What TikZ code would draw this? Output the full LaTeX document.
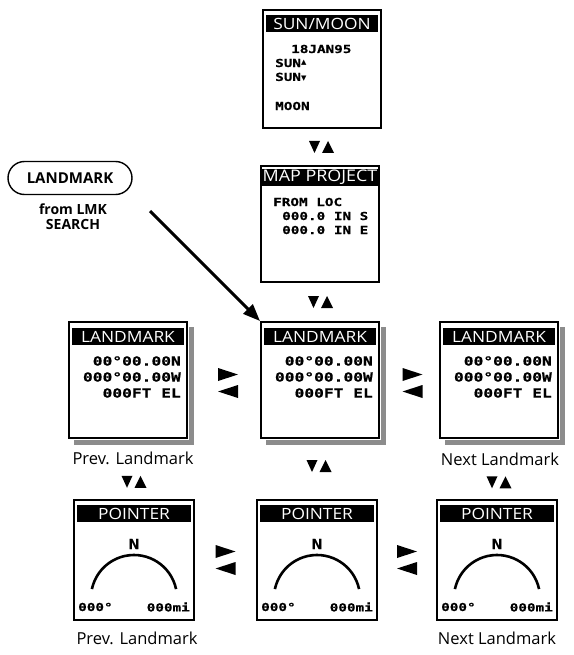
\documentclass[tikz,border=0pt]{standalone}
\usepackage{fontspec}
\setmainfont{Open Sans}
\newfontfamily\titlefont{Open Sans}[FakeStretch=1.12]
\newfontfamily\lcdfont{DejaVu Sans Mono}[FakeStretch=1.3, FakeBold=0.6]
\newfontfamily\symfont{DejaVu Sans}
\usetikzlibrary{calc,arrows.meta,positioning,shapes.misc}

\tikzset{
  screen/.style={draw, line width=2pt, fill=white, minimum width=118pt,
    minimum height=118pt, inner sep=0pt},
  shade/.style={fill=black!45},
  titlebar/.style={fill=black, text=white, anchor=north, inner sep=0pt,
    minimum width=112pt, minimum height=17pt,
    font=\titlefont\fontsize{15.5}{15.5}\selectfont},
  lcd/.style={inner sep=0pt, font=\lcdfont\bfseries\fontsize{11}{11}\selectfont},
  lcdbig/.style={lcd, font=\lcdfont\bfseries\fontsize{12.5}{12.5}\selectfont},
  caption/.style={inner sep=0pt, font=\fontsize{16.5}{16.5}\selectfont},
  dial/.style={line width=2.6pt},
  updown/.pic={
    \fill (-12,-6) -- (-1,-6) -- (-6.5,6) -- cycle;
    \fill (1,6) -- (13,6) -- (7,-6) -- cycle;
  },
  leftright/.pic={
    \fill (-10,-15) -- (-10,-2) -- (10,-8.5) -- cycle;
    \fill (10,2) -- (10,15) -- (-10,8.5) -- cycle;
  },
}
\newcommand{\sunup}{{\symfont\fontsize{7}{7}\selectfont\raisebox{3pt}{▲}}}
\newcommand{\sundown}{{\symfont\fontsize{7}{7}\selectfont\raisebox{0.5pt}{▼}}}

\begin{document}
\begin{tikzpicture}[x=1pt, y=-1pt]
\useasboundingbox (0,0) rectangle (573,655);

% sun/moon screen
\node[screen] (sunmoon) at (322,69) {};
\node[titlebar] (sunmoon-t) at ($(sunmoon.north)+(0,6)$) {SUN/MOON};
\node[lcd, anchor=west] (sunmoon-date) at ($(sunmoon.north west)+(29,40)$) {18JAN95};
\node[lcd, anchor=west] (sunmoon-rise) at ($(sunmoon.north west)+(13,54)$) {SUN\sunup};
\node[lcd, anchor=west] (sunmoon-set) at ($(sunmoon.north west)+(13,68)$) {SUN\sundown};
\node[lcd, anchor=west] (sunmoon-moon) at ($(sunmoon.north west)+(13,97)$) {MOON};

% map project screen
\node[screen, minimum height=116pt] (mapproj) at (320,224) {};
\node[titlebar, minimum width=116pt, font=\titlefont\fontsize{16}{16}\selectfont]
  (mapproj-t) at ($(mapproj.north)+(0,4)$) {MAP PROJECT};
\node[lcd, anchor=west] (mapproj-from) at ($(mapproj.north west)+(13,37)$) {FROM LOC};
\node[lcd, anchor=west] (mapproj-s) at ($(mapproj.north west)+(22,51)$) {000.0 IN S};
\node[lcd, anchor=west] (mapproj-e) at ($(mapproj.north west)+(22,65)$) {000.0 IN E};

% landmark screens, with their shadow
\foreach \n/\x in {lmkprev/128, lmk/320, lmknext/499}{
  \node[screen, minimum height=116pt] (\n) at (\x,380) {};
  \fill[shade] ($(\n.north east)+(1,6)$) rectangle ($(\n.south east)+(6,6)$);
  \fill[shade] ($(\n.south west)+(6,1)$) rectangle ($(\n.south east)+(6,6)$);
  \node[titlebar] (\n-t) at ($(\n.north)+(0,7)$) {LANDMARK};
  \node[lcdbig, anchor=east] (\n-lat) at ($(\n.north east)+(-7,40)$) {00°00.00N};
  \node[lcdbig, anchor=east] (\n-lon) at ($(\n.north east)+(-7,56)$) {000°00.00W};
  \node[lcdbig, anchor=east] (\n-el) at ($(\n.north east)+(-7,72)$) {000FT EL};
}

% pointer screens
\foreach \n/\x in {ptrprev/134, ptr/317, ptrnext/497}{
  \node[screen, minimum width=120pt, minimum height=120pt] (\n) at (\x,560) {};
  \node[titlebar, minimum width=114pt] (\n-t) at ($(\n.north)+(0,6)$) {POINTER};
  \node[lcd, font=\lcdfont\bfseries\fontsize{14}{14}\selectfont] (\n-n) at ($(\n.north)+(0,45)$) {N};
  \draw[dial] ($(\n.north)+(0,99)$) ++(-12:43) arc[start angle=-12, end angle=-168, radius=43];
  \node[lcd, anchor=west] (\n-deg) at ($(\n.south west)+(5,-14)$) {000°};
  \node[lcd, anchor=east] (\n-mi) at ($(\n.south east)+(-5,-14)$) {000mi};
}

% captions
\node[caption] (lmkprev-c) at (133,458) {Prev. Landmark};
\node[caption] (lmknext-c) at (500,459) {Next Landmark};
\node[caption] (ptrprev-c) at (137,638) {Prev. Landmark};
\node[caption] (ptrnext-c) at (497,638) {Next Landmark};

% landmark key
\node[draw, rounded rectangle, line width=1.4pt, minimum width=124pt, minimum height=33pt,
  inner sep=0pt, font=\bfseries\fontsize{15}{15}\selectfont] (lmkbtn) at (70,178) {LANDMARK};
\node[align=center, inner sep=0pt, font=\bfseries\fontsize{14}{15}\selectfont]
  (lmkbtn-c) at (73,217) {from LMK\\SEARCH};
\coordinate (lmkfrom) at (150,211);
\draw[line width=3pt, -{Triangle[length=17pt, width=13pt]}] (lmkfrom) -- (lmk.north west);

% key arrows
\pic at ($(sunmoon.south)!0.5!(mapproj.north)$) {updown};
\pic at ($(mapproj.south)!0.5!(lmk.north)$) {updown};
\pic at ($(lmk.south)!0.5!(ptr.north)+(0,-3)$) {updown};
\pic at ($(lmkprev-c.south)!0.5!(ptrprev.north)$) {updown};
\pic at ($(lmknext-c.south)!0.5!(ptrnext.north)$) {updown};
\pic at ($(lmkprev.east)!0.5!(lmk.west)+(4,3)$) {leftright};
\pic at ($(lmk.east)!0.5!(lmknext.west)+(3,3)$) {leftright};
\pic at ($(ptrprev.east)!0.5!(ptr.west)$) {leftright};
\pic at ($(ptr.east)!0.5!(ptrnext.west)$) {leftright};
\end{tikzpicture}
\end{document}
